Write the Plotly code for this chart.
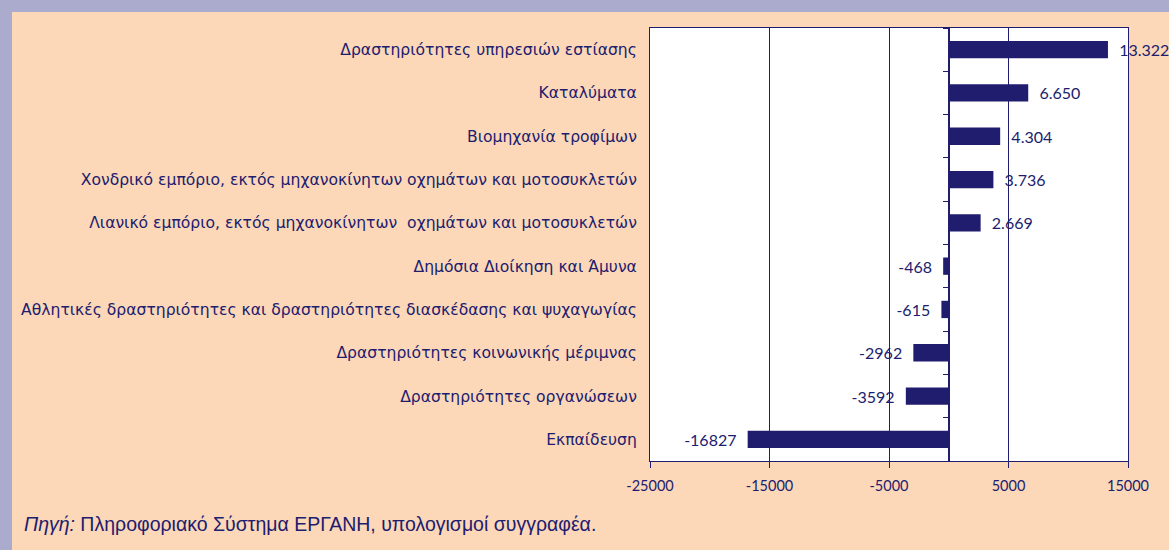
import plotly.graph_objects as go

categories = [
    "Δραστηριότητες υπηρεσιών εστίασης",
    "Καταλύματα",
    "Βιομηχανία τροφίμων",
    "Χονδρικό εμπόριο, εκτός μηχανοκίνητων οχημάτων και μοτοσυκλετών",
    "Λιανικό εμπόριο, εκτός μηχανοκίνητων  οχημάτων και μοτοσυκλετών",
    "Δημόσια Διοίκηση και Άμυνα",
    "Αθλητικές δραστηριότητες και δραστηριότητες διασκέδασης και ψυχαγωγίας",
    "Δραστηριότητες κοινωνικής μέριμνας",
    "Δραστηριότητες οργανώσεων",
    "Εκπαίδευση",
]
values = [13322, 6650, 4304, 3736, 2669, -468, -615, -2962, -3592, -16827]
x_ticks = [-25000, -15000, -5000, 5000, 15000]

PAD = "\u00a0\u00a0"


def fmt(v):
    if v > 0:
        return PAD + f"{v:,}".replace(",", ".")
    return str(v) + PAD


labels = [fmt(v) for v in values]

NAVY = "#201c6e"
PEACH = "#fcd7b8"
PURPLE = "#abaccd"

fig = go.Figure()
fig.add_trace(go.Bar(
    x=values, y=categories, orientation="h",
    marker=dict(color=NAVY, line=dict(width=0)),
    text=labels, textposition="outside", cliponaxis=False, constraintext="none",
    textfont=dict(family="Lato", size=16, color=NAVY),
    width=0.4, hoverinfo="skip",
))
# invisible helper trace for the category-boundary ticks on the zero line
fig.add_trace(go.Scatter(
    x=[0] * len(categories), y=categories, yaxis="y2", mode="markers",
    marker=dict(opacity=0), hoverinfo="skip", showlegend=False,
))

# plot area: x 650..1128, y 28..461
L, R, T, B = 650, 1128, 28, 461
W, H = R - L, B - T
zero_frac = (0 - x_ticks[0]) / (x_ticks[-1] - x_ticks[0])

fig.update_layout(
    width=1169, height=550,
    margin=dict(l=L, r=1169 - R, t=T, b=550 - B),
    paper_bgcolor=PEACH, plot_bgcolor="white",
    showlegend=False,
    xaxis=dict(
        range=[x_ticks[0], x_ticks[-1]], tickvals=x_ticks,
        ticktext=[str(t) for t in x_ticks],
        showgrid=True, gridcolor=NAVY, gridwidth=1,
        zeroline=False, showline=True, linecolor=NAVY, linewidth=1,
        mirror=True, ticks="outside", ticklen=6, tickcolor=NAVY,
        ticklabelstandoff=6,
        tickfont=dict(family="Lato", size=14.5, color=NAVY),
    ),
    yaxis=dict(
        type="category", categoryarray=categories, categoryorder="array",
        range=[len(categories) - 0.5, -0.5],
        showgrid=False, zeroline=False, showline=True, linecolor=NAVY,
        linewidth=1, mirror=True, ticks="", ticklabelstandoff=9,
        tickfont=dict(family="DejaVu Sans", size=15.6, color=NAVY),
    ),
    yaxis2=dict(
        type="category", categoryarray=categories, categoryorder="array",
        range=[len(categories) - 0.5, -0.5],
        overlaying="y", anchor="free", position=zero_frac, side="left",
        showgrid=False, zeroline=False, showline=True, linecolor=NAVY,
        linewidth=2, ticks="outside", tickson="boundaries", ticklen=5,
        tickcolor=NAVY, showticklabels=False,
    ),
    shapes=[
        # purple frame strips (left and top)
        dict(type="rect", xref="paper", yref="paper",
             x0=-L / W - 0.01, x1=(12 - L) / W, y0=-1, y1=2,
             fillcolor=PURPLE, line=dict(width=0), layer="below"),
        dict(type="rect", xref="paper", yref="paper",
             x0=-2, x1=2, y0=(B - 12) / H, y1=(B + 5) / H,
             fillcolor=PURPLE, line=dict(width=0), layer="below"),
    ],
    annotations=[
        dict(xref="paper", yref="paper", x=(22 - L) / W, y=(B - 524) / H,
             xanchor="left", yanchor="middle", showarrow=False,
             text="<i>Πηγή:</i> Πληροφοριακό Σύστημα ΕΡΓΑΝΗ, υπολογισμοί συγγραφέα.",
             font=dict(family="Liberation Sans", size=19.5, color=NAVY)),
    ],
)

fig.write_html(
    "out.html",
    config={"displayModeBar": False},
    post_script="document.body.style.margin='0';document.body.style.background='" + PEACH + "';",
)
